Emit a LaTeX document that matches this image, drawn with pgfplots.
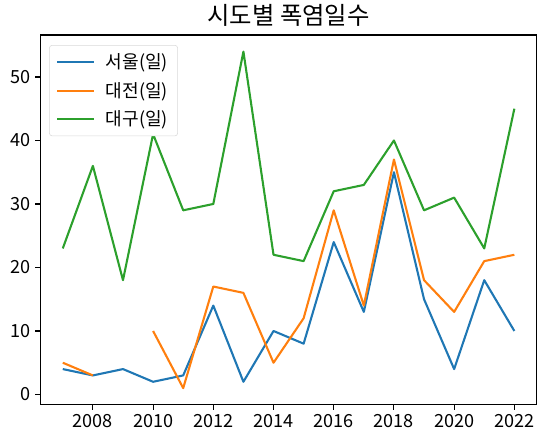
\documentclass[border=0pt]{standalone}
\usepackage{pgfplots}
\pgfplotsset{compat=1.18}
\usepackage{fontspec}
\setmainfont{Noto Sans CJK KR}
\definecolor{c0}{HTML}{1F77B4}
\definecolor{c1}{HTML}{FF7F0E}
\definecolor{c2}{HTML}{2CA02C}
\begin{document}
\begin{tikzpicture}
\path[use as bounding box] (-28.9pt,-27.4pt) rectangle (362.9pt,290.9pt);
\begin{axis}[
  at={(0,0)}, anchor=south west,
  scale only axis, width=357.1pt, height=265.7pt,
  xmin=2006.25, xmax=2022.75, ymin=-1.6, ymax=56.6,
  xtick={2008,2010,...,2022}, ytick={0,10,...,50},
  /pgf/number format/1000 sep={},
  /pgf/number format/assume math mode=true,
  tick label style={font=\fontsize{13}{15}\selectfont},
  tick align=outside, tick pos=left,
  major tick length=3.5pt,
  axis line style={line width=0.8pt},
  every tick/.style={black, line width=0.8pt},
  title={\fontsize{17.5}{20}\selectfont 시도별 폭염일수},
  title style={yshift=-3pt},
  unbounded coords=jump,
  legend style={font=\fontsize{13}{15}\selectfont, draw=black!15, rounded corners=2pt, at={(0.018,0.973)}, anchor=north west, row sep=4.2pt, column sep=6pt, inner xsep=5pt, inner ysep=4pt},
  legend cell align=left,
  legend image code/.code={\draw[#1] (0pt,0pt) -- (26pt,0pt);},
  every axis plot/.append style={line width=1.5pt, line join=round},
]
\addplot[c0] coordinates {(2007,4)(2008,3)(2009,4)(2010,2)(2011,3)(2012,14)(2013,2)(2014,10)(2015,8)(2016,24)(2017,13)(2018,35)(2019,15)(2020,4)(2021,18)(2022,10)};
\addlegendentry{서울(일)}
\addplot[c1] coordinates {(2007,5)(2008,3)(2009,nan)(2010,10)(2011,1)(2012,17)(2013,16)(2014,5)(2015,12)(2016,29)(2017,14)(2018,37)(2019,18)(2020,13)(2021,21)(2022,22)};
\addlegendentry{대전(일)}
\addplot[c2] coordinates {(2007,23)(2008,36)(2009,18)(2010,41)(2011,29)(2012,30)(2013,54)(2014,22)(2015,21)(2016,32)(2017,33)(2018,40)(2019,29)(2020,31)(2021,23)(2022,45)};
\addlegendentry{대구(일)}
\end{axis}
\end{tikzpicture}
\end{document}
